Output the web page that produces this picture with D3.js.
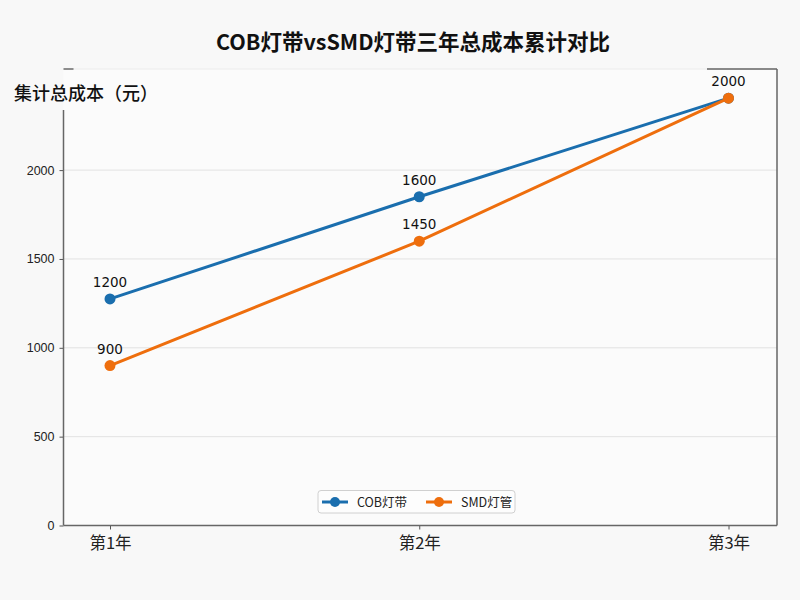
<!DOCTYPE html>
<html><head><meta charset="utf-8">
<script src="https://cdn.jsdelivr.net/npm/d3@7/dist/d3.min.js"></script>
<style>
html,body{margin:0;padding:0;background:#f8f8f8;}
svg{display:block;}
</style></head>
<body>
<script>
const categories = ["第1年", "第2年", "第3年"];
const cobValues = [1275, 1850, 2405];
const smdValues = [900, 1600, 2405];
const cobLabels = ["1200", "1600", "2000"];
const smdLabels = ["900", "1450", "2000"];
const yTicks = [0, 500, 1000, 1500, 2000];
const seriesNames = ["COB灯带", "SMD灯管"];
const titleText = "COB灯带vsSMD灯带三年总成本累计对比";
const yLabelText = "集计总成本（元）";

const W = 800, H = 600;
const L = 63.5, R = 777, T = 69, B = 525.5;
const FONT = "'Noto Sans CJK SC','Noto Sans',sans-serif";
const NUMFONT = "'DejaVu Sans',sans-serif";
const blue = "#1a6eae", orange = "#ee6e0d";

const svg = d3.select("body").append("svg").attr("width", W).attr("height", H);
svg.append("rect").attr("width", W).attr("height", H).attr("fill", "#f8f8f8");
svg.append("rect").attr("x", L).attr("y", T).attr("width", R - L).attr("height", B - T).attr("fill", "#fbfbfb");

const x = d3.scalePoint().domain(categories).range([110, 728.5]);
const y = d3.scaleLinear().domain([0, 2569]).range([B, T]);

// grid
svg.append("g").selectAll("line").data(yTicks.filter(d => d > 0)).join("line")
  .attr("x1", L).attr("x2", R).attr("y1", d => y(d)).attr("y2", d => y(d))
  .attr("stroke", "#e2e2e2").attr("stroke-width", 1);

// top spine (faint) and right spine
svg.append("line").attr("x1", L).attr("x2", R).attr("y1", T).attr("y2", T).attr("stroke", "#ececec").attr("stroke-width", 1.2);
svg.append("line").attr("x1", L).attr("x2", L + 10).attr("y1", T).attr("y2", T).attr("stroke", "#555").attr("stroke-width", 1.3);
svg.append("line").attr("x1", 707).attr("x2", R).attr("y1", T).attr("y2", T).attr("stroke", "#666").attr("stroke-width", 1.3);
svg.append("line").attr("x1", R).attr("x2", R).attr("y1", T).attr("y2", B).attr("stroke", "#666").attr("stroke-width", 1.5);

// y axis
const yAxis = svg.append("g").attr("transform", `translate(${L},0)`)
  .call(d3.axisLeft(y).tickValues(yTicks).tickSize(4).tickPadding(5).tickFormat(d3.format("d")));
yAxis.select(".domain").remove();
yAxis.selectAll(".tick line").attr("stroke", "#555");
yAxis.selectAll("text").attr("font-family", "'Liberation Sans',Arial,sans-serif").attr("font-size", 12.5).attr("fill", "#222");
svg.append("line").attr("x1", L).attr("x2", L).attr("y1", 110).attr("y2", B).attr("stroke", "#666").attr("stroke-width", 1.5);

// x axis
const xAxis = svg.append("g").attr("transform", `translate(0,${B})`)
  .call(d3.axisBottom(x).tickSize(4).tickPadding(8));
xAxis.select(".domain").remove();
xAxis.selectAll(".tick line").attr("stroke", "#555");
xAxis.selectAll("text").attr("font-family", FONT).attr("font-size", 16.5).attr("fill", "#222");
svg.append("line").attr("x1", L).attr("x2", R).attr("y1", B).attr("y2", B).attr("stroke", "#666").attr("stroke-width", 1.5);

// lines
const series = [
  {vals: cobValues, labels: cobLabels, color: blue},
  {vals: smdValues, labels: smdLabels, color: orange}
];
const line = d3.line().x((d, i) => x(categories[i])).y(d => y(d));
series.forEach(s => {
  svg.append("path").datum(s.vals).attr("d", line).attr("fill", "none")
    .attr("stroke", s.color).attr("stroke-width", 3).attr("stroke-linejoin", "round");
  svg.append("g").selectAll("circle").data(s.vals).join("circle")
    .attr("cx", (d, i) => x(categories[i])).attr("cy", d => y(d)).attr("r", 5.5).attr("fill", s.color);
});
// labels (COB third label hidden under SMD's identical one)
series.forEach((s, si) => {
  svg.append("g").selectAll("text").data(s.vals).join("text")
    .filter((d, i) => !(si === 0 && i === 2))
    .attr("x", (d, i) => x(categories[i])).attr("y", d => y(d) - 12)
    .attr("text-anchor", "middle").attr("font-family", NUMFONT).attr("font-size", 13.5).attr("fill", "#111")
    .text((d, i) => s.labels[i]);
});

// title
svg.append("text").attr("x", 413).attr("y", 50).attr("text-anchor", "middle")
  .attr("font-family", FONT).attr("font-weight", "bold").attr("font-size", 21.5).attr("fill", "#111").text(titleText);
// y label
svg.append("text").attr("x", 14).attr("y", 100)
  .attr("font-family", FONT).attr("font-weight", 500).attr("font-size", 18).attr("fill", "#111").text(yLabelText);

// legend
const lg = svg.append("g");
lg.append("rect").attr("x", 318).attr("y", 490.5).attr("width", 197).attr("height", 22.5).attr("rx", 3)
  .attr("fill", "#fdfdfd").attr("stroke", "#d0d0d0");
const items = [{x: 322, color: blue, name: seriesNames[0]}, {x: 426, color: orange, name: seriesNames[1]}];
items.forEach(it => {
  lg.append("line").attr("x1", it.x).attr("x2", it.x + 26).attr("y1", 502).attr("y2", 502).attr("stroke", it.color).attr("stroke-width", 3);
  lg.append("circle").attr("cx", it.x + 13).attr("cy", 502).attr("r", 5).attr("fill", it.color);
  lg.append("text").attr("x", it.x + 35).attr("y", 506.5).attr("font-family", FONT).attr("font-size", 12.5).attr("fill", "#222").text(it.name);
});
</script>
</body></html>
